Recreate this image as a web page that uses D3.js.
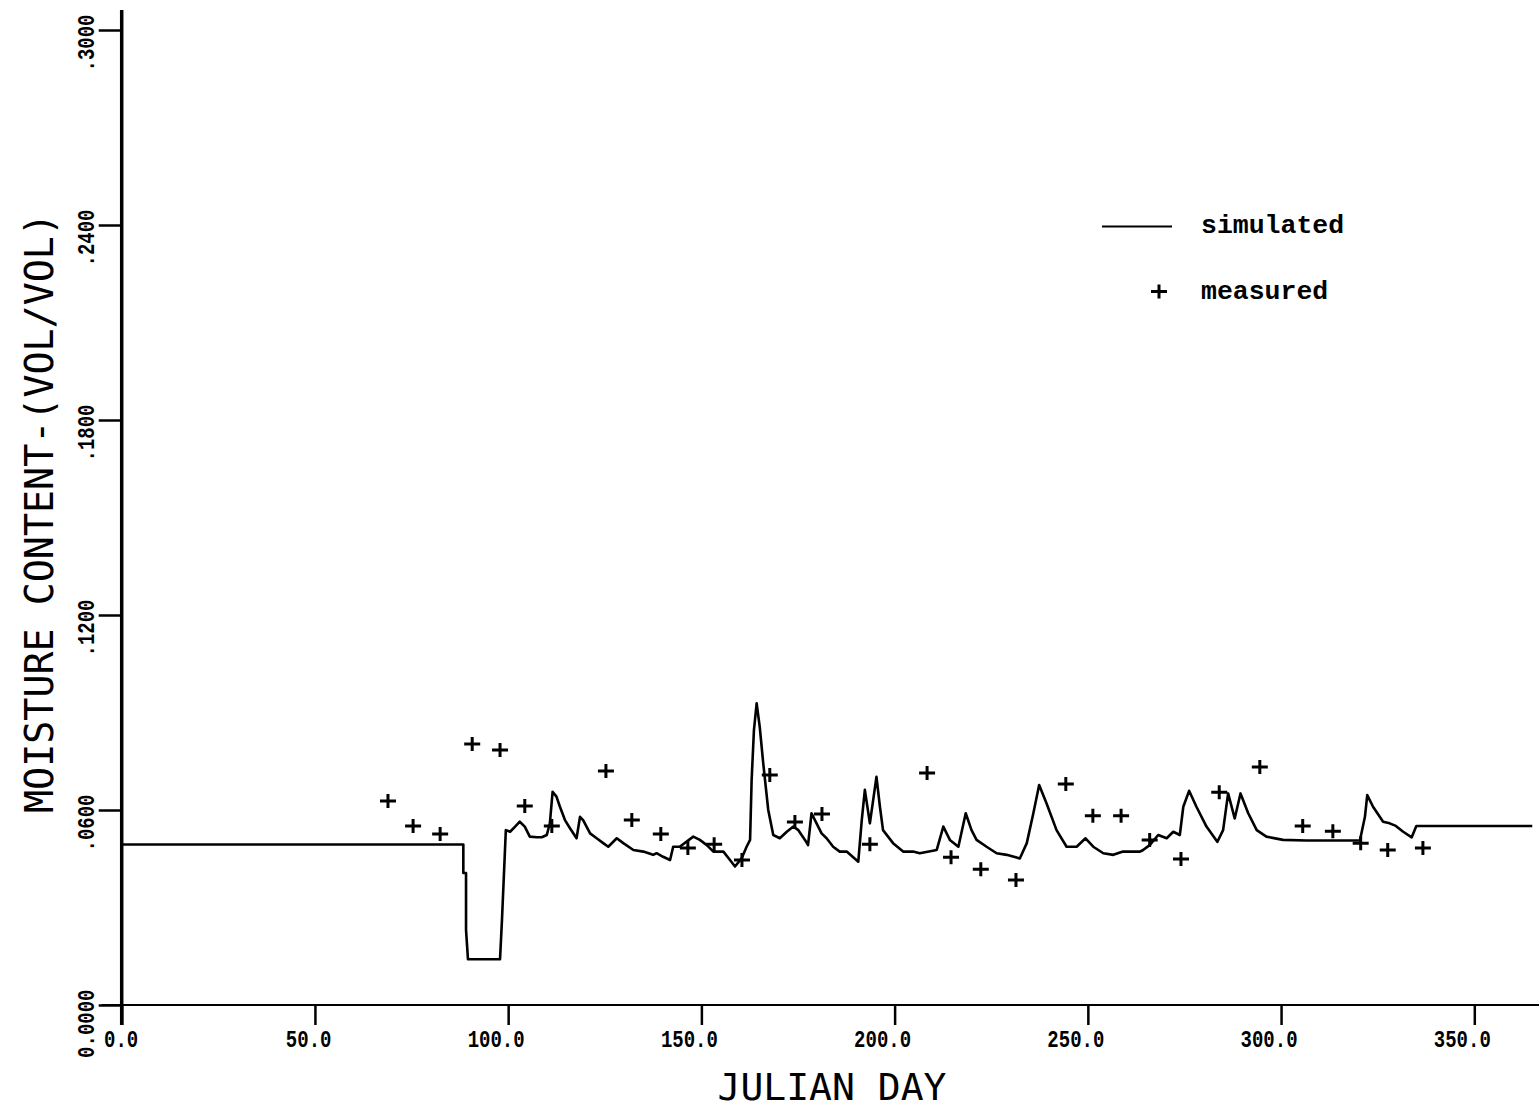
<!DOCTYPE html>
<html>
<head>
<meta charset="utf-8">
<script src="https://cdn.jsdelivr.net/npm/d3@7"></script>
<style>
  body { margin: 0; background: #fff; }
  .tick line { stroke: #000; stroke-width: 2.5; }
  .title { font-family: "DejaVu Sans Mono", monospace; fill: #000; }
  .legend { font-family: "Liberation Mono", monospace; font-weight: bold; font-size: 26.5px; fill: #000; }
</style>
</head>
<body>
<div id="chart"></div>
<script>
// simulated moisture content
const simDay = [0, 88.4, 88.4, 89.1, 89.1, 89.6, 97.9, 98.4, 99.4,
  100.5, 101.8, 103.0, 104.3, 105.6, 107.4, 108.7, 110.0, 110.8, 111.5, 112.5, 113.4, 114.7, 116.0, 117.7, 118.6, 119.4,
  121.2, 122.9, 124.6, 125.9, 128.1, 129.8, 132.4, 135.0, 137.5, 138.4, 140.1, 141.9, 142.7, 144.4, 147.9, 149.6,
  151.4, 153.1, 155.7, 157.4, 158.7, 160.4, 161.7, 162.6, 163.0, 163.6, 164.3, 165.1, 166.0, 167.3, 168.6, 170.3,
  172.1, 173.8, 175.1, 176.8, 177.6, 178.5, 179.8, 181.1, 182.4, 184.1, 185.8, 187.6, 190.6, 191.5, 192.3, 193.6,
  195.3, 196.2, 197.0, 199.6, 202.2, 204.8, 206.5, 210.9, 212.6, 214.3, 216.5, 218.4, 219.9, 221.2, 223.8, 226.4,
  229.0, 232.4, 234.2, 235.9, 237.4, 239.3, 241.9, 244.5, 247.1, 249.4, 251.4, 254.0, 256.6, 259.1, 263.5, 264.3,
  266.0, 268.2, 270.4, 272.1, 273.8, 274.7, 276.2, 278.1, 280.7, 283.5, 285.0, 286.3, 288.0, 289.5, 291.5, 293.7,
  296.2, 300.5, 306.6, 320.4, 321.7, 322.3, 323.8, 326.4, 328.1, 329.7, 331.6, 333.8, 335.0, 365.0];
const simValue = [0.0494, 0.0494, 0.0406, 0.0406, 0.0231, 0.0141, 0.0141, 0.0262, 0.0538,
  0.0533, 0.0549, 0.0564, 0.0549, 0.0518, 0.0516, 0.0516, 0.0523, 0.0560, 0.0656, 0.0641, 0.0610, 0.0569, 0.0544, 0.0513, 0.0579, 0.0569,
  0.0528, 0.0513, 0.0498, 0.0487, 0.0513, 0.0498, 0.0477, 0.0472, 0.0462, 0.0467, 0.0456, 0.0446, 0.0487, 0.0487, 0.0518, 0.0508,
  0.0492, 0.0472, 0.0472, 0.0446, 0.0426, 0.0451, 0.0487, 0.0508, 0.0692, 0.0846, 0.0928, 0.0856, 0.0744, 0.0600, 0.0523, 0.0513,
  0.0533, 0.0549, 0.0538, 0.0508, 0.0492, 0.0590, 0.0559, 0.0528, 0.0513, 0.0487, 0.0472, 0.0472, 0.0441, 0.0569, 0.0662, 0.0559,
  0.0702, 0.0610, 0.0538, 0.0498, 0.0472, 0.0472, 0.0467, 0.0477, 0.0549, 0.0508, 0.0487, 0.0590, 0.0538, 0.0508, 0.0487, 0.0467,
  0.0462, 0.0451, 0.0498, 0.0590, 0.0677, 0.0621, 0.0538, 0.0487, 0.0487, 0.0513, 0.0487, 0.0467, 0.0462, 0.0472, 0.0472, 0.0477,
  0.0492, 0.0523, 0.0513, 0.0533, 0.0523, 0.0610, 0.0659, 0.0610, 0.0549, 0.0502, 0.0538, 0.0651, 0.0574, 0.0651, 0.0590, 0.0538,
  0.0518, 0.0508, 0.0506, 0.0506, 0.0579, 0.0646, 0.0610, 0.0564, 0.0559, 0.0551, 0.0533, 0.0516, 0.0551, 0.0551];

// measured samples
const measDay = [68.9, 75.4, 82.4, 90.7, 97.9, 104.3, 111.3, 125.3, 132.0, 139.5, 146.5, 153.3, 160.5, 167.7,
  174.2, 181.2, 193.6, 208.4, 214.6, 222.3, 231.4, 244.3, 251.3, 258.6, 266.0, 274.1, 284.0, 294.5, 305.6,
  313.4, 320.6, 327.6, 336.7];
const measValue = [0.0628, 0.0551, 0.0526, 0.0803, 0.0785, 0.0612, 0.0551, 0.0720, 0.0569, 0.0526, 0.0483,
  0.0495, 0.0446, 0.0708, 0.0563, 0.0588, 0.0495, 0.0714, 0.0455, 0.0418, 0.0385, 0.0680, 0.0582, 0.0582,
  0.0508, 0.0449, 0.0655, 0.0732, 0.0551, 0.0535, 0.0498, 0.0477, 0.0483];

const xTicks = [0, 50, 100, 150, 200, 250, 300, 350];
const yTicks = [0, 0.06, 0.12, 0.18, 0.24, 0.30];

const W = 1539, H = 1111;
const CHAR = 11.4; // advance of the plotter tick lettering

const svg = d3.select("#chart").append("svg")
  .attr("width", W)
  .attr("height", H)
  .style("display", "block");

svg.append("rect").attr("width", W).attr("height", H).attr("fill", "#fff");

const x = d3.scaleLinear().domain([0, 350]).range([121.7, 1474.3]);
const y = d3.scaleLinear().domain([0, 0.3]).range([1005, 30]);

// axis lines (longer than the tick range, like the plotter output)
svg.append("line")
  .attr("x1", x(0)).attr("x2", x(0))
  .attr("y1", 10).attr("y2", 1025)
  .attr("stroke", "#000").attr("stroke-width", 3.5);

svg.append("line")
  .attr("x1", 102).attr("x2", W)
  .attr("y1", y(0)).attr("y2", y(0))
  .attr("stroke", "#000").attr("stroke-width", 2);

const fmtY = d => d === 0 ? "0.0000" : d3.format(".4f")(d).replace(/^0/, "");

function tickFont(sel) {
  sel.style("font-family", "'Liberation Mono', 'DejaVu Sans Mono', monospace")
    .style("font-weight", "bold")
    .style("font-size", "24px")
    .attr("fill", "#000")
    .attr("textLength", function () { return this.textContent.length * CHAR; })
    .attr("lengthAdjust", "spacingAndGlyphs");
}

const xAxis = svg.append("g")
  .attr("transform", `translate(0,${y(0)})`)
  .call(d3.axisBottom(x).tickValues(xTicks).tickSize(20).tickFormat(d3.format(".1f")));
xAxis.select(".domain").remove();
xAxis.selectAll(".tick text")
  .attr("text-anchor", "end")
  .attr("dx", 16)
  .attr("dy", null)
  .attr("y", 42)
  .call(tickFont);

const yAxis = svg.append("g")
  .attr("transform", `translate(${x(0)},0)`)
  .call(d3.axisLeft(y).tickValues(yTicks).tickSize(23).tickFormat(fmtY));
yAxis.select(".domain").remove();
yAxis.selectAll(".tick text")
  .attr("x", null).attr("dy", null)
  .attr("text-anchor", "end")
  .attr("transform", "translate(-28,-16) rotate(-90)")
  .call(tickFont);

// simulated line
const simData = simDay.map((d, i) => ({ day: d, v: simValue[i] }));
svg.append("path")
  .datum(simData)
  .attr("fill", "none")
  .attr("stroke", "#000")
  .attr("stroke-width", 2.6)
  .attr("stroke-linejoin", "round")
  .attr("d", d3.line().x(d => x(d.day)).y(d => y(d.v)));

// measured crosses
const measData = measDay.map((d, i) => ({ day: d, v: measValue[i] }));
svg.append("g")
  .selectAll("path")
  .data(measData)
  .enter()
  .append("path")
  .attr("transform", d => `translate(${x(d.day)},${y(d.v)})`)
  .attr("d", "M-8,0H8M0,-7V7")
  .attr("stroke", "#000")
  .attr("stroke-width", 3)
  .attr("fill", "none");

// axis titles
svg.append("text")
  .attr("class", "title")
  .attr("x", 832)
  .attr("y", 1100)
  .attr("text-anchor", "middle")
  .attr("font-size", "38px")
  .attr("textLength", 229)
  .attr("lengthAdjust", "spacingAndGlyphs")
  .text("JULIAN DAY");

svg.append("text")
  .attr("class", "title")
  .attr("transform", "translate(53,513) rotate(-90)")
  .attr("text-anchor", "middle")
  .attr("font-size", "39px")
  .attr("textLength", 600)
  .attr("lengthAdjust", "spacingAndGlyphs")
  .text("MOISTURE CONTENT-(VOL/VOL)");

// legend
const legend = svg.append("g");
legend.append("line")
  .attr("x1", 1102).attr("x2", 1172)
  .attr("y1", 226.5).attr("y2", 226.5)
  .attr("stroke", "#000").attr("stroke-width", 2);
legend.append("text").attr("class", "legend")
  .attr("x", 1201).attr("y", 233).text("simulated");
legend.append("path")
  .attr("transform", "translate(1159,291.5)")
  .attr("d", "M-8,0H8M0,-7V7")
  .attr("stroke", "#000").attr("stroke-width", 3);
legend.append("text").attr("class", "legend")
  .attr("x", 1201).attr("y", 298.5).text("measured");
</script>
</body>
</html>
